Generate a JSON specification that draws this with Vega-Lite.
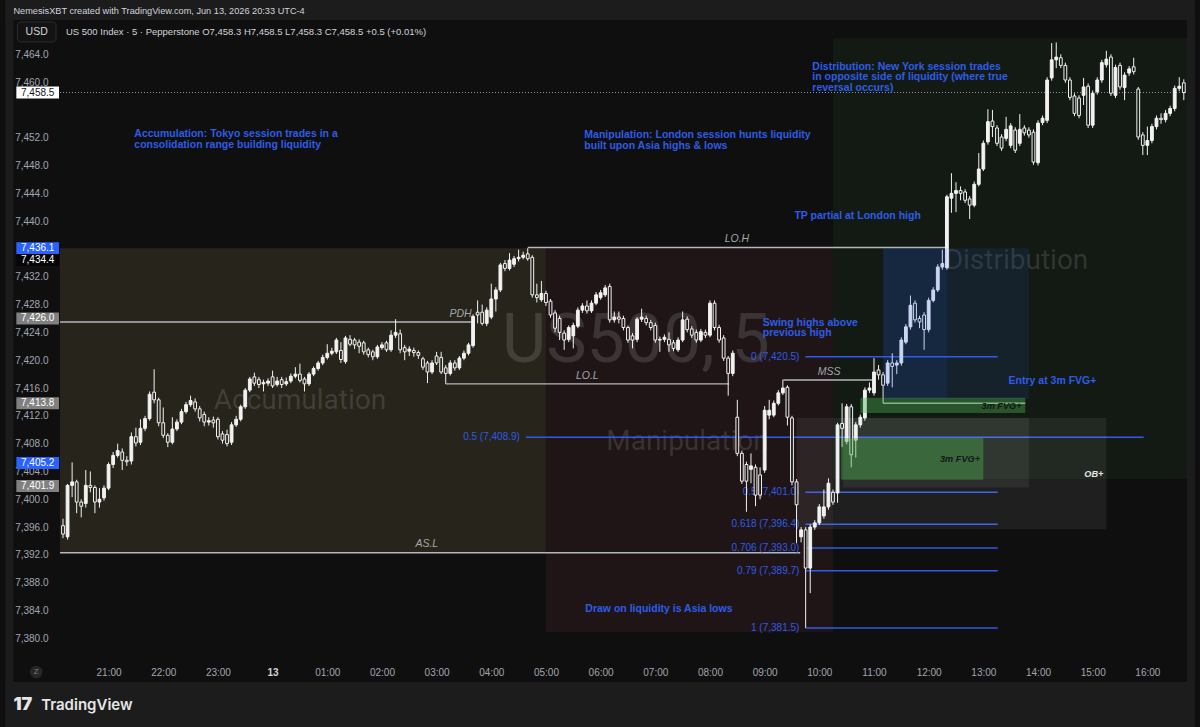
{
  "$schema": "https://vega.github.io/schema/vega-lite/v6.json",
  "width": 1137,
  "height": 640,
  "autosize": {"type": "none"},
  "padding": {"left": 55, "top": 20, "right": 8, "bottom": 67},
  "background": "#0f0f0f",
  "config": {
    "view": {"stroke": null},
    "font": "Liberation Sans",
    "axis": {
      "labelOverlap": false, "labelFlush": false, "ticks": false, "domain": false, "grid": false,
      "labelFont": "Liberation Sans", "labelFontSize": 10, "labelPadding": 7, "labelColor": "#a3a6af"
    }
  },
  "datasets": {
    "areas": [
      {"zone": "frame", "t0": -53.13, "t1": 1252.2, "p0": 7468.93, "p1": 7471.81},
      {"zone": "frame", "t0": -53.13, "t1": 1252.2, "p0": 7367.24, "p1": 7373.71},
      {"zone": "frame", "t0": -53.13, "t1": -44.43, "p0": 7367.24, "p1": 7471.81},
      {"zone": "frame", "t0": 1243.5, "t1": 1252.2, "p0": 7367.24, "p1": 7471.81},
      {"zone": "accumulation", "t0": 6.7, "t1": 540, "p0": 7392.3, "p1": 7436.1},
      {"zone": "manipulation", "t0": 540, "t1": 855, "p0": 7380.9, "p1": 7436.1},
      {"zone": "distribution", "t0": 855, "t1": 1243.5, "p0": 7402.9, "p1": 7466.3}
    ],
    "obBoxes": [
      {"name": "OB+", "t0": 815, "t1": 1155, "p0": 7395.7, "p1": 7411.7},
      {"name": "OB inner", "t0": 866, "t1": 1070, "p0": 7401.7, "p1": 7411.7}
    ],
    "blueBoxes": [
      {"name": "long", "t0": 910, "t1": 1070, "p0": 7414.4, "p1": 7436.1},
      {"name": "long inner", "t0": 910, "t1": 980, "p0": 7414.4, "p1": 7436.1}
    ],
    "fvgBoxes": [
      {"name": "3m FVG+ upper", "t0": 885, "t1": 1066, "p0": 7412.4, "p1": 7414.6},
      {"name": "3m FVG+ lower", "t0": 864, "t1": 1020, "p0": 7402.8, "p1": 7408.8}
    ],
    "levels": [
      {"name": "PDH", "t0": 6.7, "t1": 458, "p": 7425.5},
      {"name": "LO.H", "t0": 520, "t1": 978, "p": 7436.2},
      {"name": "LO.L", "t0": 430, "t1": 741, "p": 7416.6},
      {"name": "AS.L", "t0": 6.7, "t1": 819, "p": 7392.3},
      {"name": "MSS", "t0": 800.5, "t1": 900, "p": 7417.15},
      {"name": "entry", "t0": 910, "t1": 1066, "p": 7413.8}
    ],
    "fibs": [
      {"label": "0 (7,420.5)", "t0": 824.7, "t1": 1035.7, "p": 7420.5},
      {"label": "0.5 (7,401.0)", "t0": 824.7, "t1": 1035.7, "p": 7401.0},
      {"label": "0.618 (7,396.4)", "t0": 824.7, "t1": 1035.7, "p": 7396.4},
      {"label": "0.706 (7,393.0)", "t0": 824.7, "t1": 1035.7, "p": 7393.0},
      {"label": "0.79 (7,389.7)", "t0": 824.7, "t1": 1035.7, "p": 7389.7},
      {"label": "1 (7,381.5)", "t0": 824.7, "t1": 1035.7, "p": 7381.5},
      {"label": "0.5 (7,408.9)", "t0": 518, "t1": 1196, "p": 7408.9}
    ],
    "candles": [
      {"t":10,"o":7396.2,"h":7397.2,"l":7394.4,"c":7395.0},
      {"t":15,"o":7394.6,"h":7402.2,"l":7394.2,"c":7402.0},
      {"t":20,"o":7402.0,"h":7405.3,"l":7400.3,"c":7402.5},
      {"t":25,"o":7402.5,"h":7402.8,"l":7398.0,"c":7399.6},
      {"t":30,"o":7399.6,"h":7400.0,"l":7397.4,"c":7399.0},
      {"t":35,"o":7399.4,"h":7404.2,"l":7398.8,"c":7402.0},
      {"t":40,"o":7402.0,"h":7404.0,"l":7401.0,"c":7401.7},
      {"t":45,"o":7401.7,"h":7402.0,"l":7398.0,"c":7399.6},
      {"t":50,"o":7399.6,"h":7401.6,"l":7398.8,"c":7400.0},
      {"t":55,"o":7400.2,"h":7402.0,"l":7399.8,"c":7401.6},
      {"t":60,"o":7401.6,"h":7405.3,"l":7401.3,"c":7405.0},
      {"t":65,"o":7405.0,"h":7406.8,"l":7404.5,"c":7406.3},
      {"t":70,"o":7406.3,"h":7408.0,"l":7406.0,"c":7407.0},
      {"t":75,"o":7406.8,"h":7407.3,"l":7404.2,"c":7405.6},
      {"t":80,"o":7405.6,"h":7406.2,"l":7404.8,"c":7405.4},
      {"t":85,"o":7405.5,"h":7409.6,"l":7405.0,"c":7409.0},
      {"t":90,"o":7409.0,"h":7410.3,"l":7407.6,"c":7408.1},
      {"t":95,"o":7408.2,"h":7411.5,"l":7407.8,"c":7410.2},
      {"t":100,"o":7410.2,"h":7412.0,"l":7409.8,"c":7411.6},
      {"t":105,"o":7411.6,"h":7415.5,"l":7411.3,"c":7415.1},
      {"t":110,"o":7415.4,"h":7418.7,"l":7413.8,"c":7414.3},
      {"t":115,"o":7414.3,"h":7414.6,"l":7410.5,"c":7411.0},
      {"t":120,"o":7411.0,"h":7413.2,"l":7408.8,"c":7409.2},
      {"t":125,"o":7409.2,"h":7409.5,"l":7407.5,"c":7408.2},
      {"t":130,"o":7408.2,"h":7411.8,"l":7407.9,"c":7410.1},
      {"t":135,"o":7410.1,"h":7411.5,"l":7409.8,"c":7411.1},
      {"t":140,"o":7411.1,"h":7413.0,"l":7410.8,"c":7412.6},
      {"t":145,"o":7412.6,"h":7414.0,"l":7412.3,"c":7413.6},
      {"t":150,"o":7413.6,"h":7414.9,"l":7413.3,"c":7414.2},
      {"t":155,"o":7414.0,"h":7414.5,"l":7412.6,"c":7413.0},
      {"t":160,"o":7413.0,"h":7413.4,"l":7411.2,"c":7411.7},
      {"t":165,"o":7412.2,"h":7412.6,"l":7410.5,"c":7411.1},
      {"t":170,"o":7411.1,"h":7411.8,"l":7410.6,"c":7411.3},
      {"t":175,"o":7411.4,"h":7411.9,"l":7410.3,"c":7411.0},
      {"t":180,"o":7411.5,"h":7411.8,"l":7408.6,"c":7409.0},
      {"t":185,"o":7409.4,"h":7409.8,"l":7408.0,"c":7408.5},
      {"t":190,"o":7409.3,"h":7410.0,"l":7407.6,"c":7408.0},
      {"t":195,"o":7408.2,"h":7411.1,"l":7407.8,"c":7410.7},
      {"t":200,"o":7410.7,"h":7412.0,"l":7410.4,"c":7411.5},
      {"t":205,"o":7411.5,"h":7413.6,"l":7411.2,"c":7413.3},
      {"t":210,"o":7413.3,"h":7416.0,"l":7413.0,"c":7415.7},
      {"t":215,"o":7415.7,"h":7417.6,"l":7415.4,"c":7417.3},
      {"t":220,"o":7417.6,"h":7418.2,"l":7416.3,"c":7416.7},
      {"t":225,"o":7417.2,"h":7417.6,"l":7416.0,"c":7416.5},
      {"t":230,"o":7416.6,"h":7417.2,"l":7415.5,"c":7416.8},
      {"t":235,"o":7416.7,"h":7417.4,"l":7416.3,"c":7417.0},
      {"t":240,"o":7417.6,"h":7418.5,"l":7416.0,"c":7416.3},
      {"t":245,"o":7416.5,"h":7417.6,"l":7416.2,"c":7417.0},
      {"t":250,"o":7417.2,"h":7417.6,"l":7416.0,"c":7416.5},
      {"t":255,"o":7416.6,"h":7417.5,"l":7416.3,"c":7416.9},
      {"t":260,"o":7417.0,"h":7418.1,"l":7416.7,"c":7417.7},
      {"t":265,"o":7417.7,"h":7419.0,"l":7417.4,"c":7418.0},
      {"t":270,"o":7418.0,"h":7419.5,"l":7416.8,"c":7417.1},
      {"t":275,"o":7417.3,"h":7417.6,"l":7415.5,"c":7416.6},
      {"t":280,"o":7416.6,"h":7418.3,"l":7416.3,"c":7418.0},
      {"t":285,"o":7418.0,"h":7419.1,"l":7417.7,"c":7418.8},
      {"t":290,"o":7418.8,"h":7419.9,"l":7418.5,"c":7419.6},
      {"t":295,"o":7419.6,"h":7420.8,"l":7419.3,"c":7420.4},
      {"t":300,"o":7420.4,"h":7422.3,"l":7420.1,"c":7421.0},
      {"t":305,"o":7421.0,"h":7421.8,"l":7420.7,"c":7421.3},
      {"t":310,"o":7421.2,"h":7423.2,"l":7420.9,"c":7422.9},
      {"t":315,"o":7421.4,"h":7422.6,"l":7419.6,"c":7420.1},
      {"t":320,"o":7419.8,"h":7423.5,"l":7419.5,"c":7423.2},
      {"t":325,"o":7423.0,"h":7423.6,"l":7422.0,"c":7422.3},
      {"t":330,"o":7422.9,"h":7423.2,"l":7421.6,"c":7422.2},
      {"t":335,"o":7422.6,"h":7423.0,"l":7421.0,"c":7422.0},
      {"t":340,"o":7422.5,"h":7422.8,"l":7420.8,"c":7421.2},
      {"t":345,"o":7421.5,"h":7421.8,"l":7420.4,"c":7420.8},
      {"t":350,"o":7421.2,"h":7421.5,"l":7420.0,"c":7420.5},
      {"t":355,"o":7420.5,"h":7422.2,"l":7420.2,"c":7421.9},
      {"t":360,"o":7421.8,"h":7422.6,"l":7421.5,"c":7422.2},
      {"t":365,"o":7422.5,"h":7422.8,"l":7421.2,"c":7421.5},
      {"t":370,"o":7421.5,"h":7424.3,"l":7421.2,"c":7423.6},
      {"t":375,"o":7423.6,"h":7425.9,"l":7423.2,"c":7424.0},
      {"t":380,"o":7423.8,"h":7424.4,"l":7421.0,"c":7421.5},
      {"t":385,"o":7421.8,"h":7422.2,"l":7420.0,"c":7421.2},
      {"t":390,"o":7421.3,"h":7422.0,"l":7420.6,"c":7421.6},
      {"t":395,"o":7421.4,"h":7421.8,"l":7420.5,"c":7421.1},
      {"t":400,"o":7421.1,"h":7421.4,"l":7420.2,"c":7420.7},
      {"t":405,"o":7420.2,"h":7420.5,"l":7418.6,"c":7419.0},
      {"t":410,"o":7419.6,"h":7419.9,"l":7416.7,"c":7418.3},
      {"t":415,"o":7418.3,"h":7420.0,"l":7418.0,"c":7419.6},
      {"t":420,"o":7420.6,"h":7421.2,"l":7419.3,"c":7419.6},
      {"t":425,"o":7420.4,"h":7421.2,"l":7418.0,"c":7418.3},
      {"t":430,"o":7418.9,"h":7419.3,"l":7416.6,"c":7418.1},
      {"t":435,"o":7418.1,"h":7420.0,"l":7417.8,"c":7419.6},
      {"t":440,"o":7419.6,"h":7420.0,"l":7418.5,"c":7418.9},
      {"t":445,"o":7418.9,"h":7420.6,"l":7418.6,"c":7420.3},
      {"t":450,"o":7420.3,"h":7421.4,"l":7420.0,"c":7421.0},
      {"t":455,"o":7421.0,"h":7422.5,"l":7420.7,"c":7422.2},
      {"t":460,"o":7422.1,"h":7426.6,"l":7421.8,"c":7426.3},
      {"t":465,"o":7426.9,"h":7428.6,"l":7425.3,"c":7426.5},
      {"t":470,"o":7426.9,"h":7428.0,"l":7425.0,"c":7425.3},
      {"t":475,"o":7425.3,"h":7427.6,"l":7424.9,"c":7427.2},
      {"t":480,"o":7426.2,"h":7431.0,"l":7425.9,"c":7428.8},
      {"t":485,"o":7428.8,"h":7430.5,"l":7427.0,"c":7430.1},
      {"t":490,"o":7430.1,"h":7434.0,"l":7429.8,"c":7433.7},
      {"t":495,"o":7433.9,"h":7434.4,"l":7432.8,"c":7433.2},
      {"t":500,"o":7433.2,"h":7435.4,"l":7432.9,"c":7434.4},
      {"t":505,"o":7433.8,"h":7435.0,"l":7433.4,"c":7434.6},
      {"t":510,"o":7434.6,"h":7435.9,"l":7434.2,"c":7434.8},
      {"t":515,"o":7434.8,"h":7435.6,"l":7434.5,"c":7435.1},
      {"t":520,"o":7435.3,"h":7436.1,"l":7434.3,"c":7434.6},
      {"t":525,"o":7434.8,"h":7435.1,"l":7429.0,"c":7429.4},
      {"t":530,"o":7429.4,"h":7431.0,"l":7428.3,"c":7429.0},
      {"t":535,"o":7428.7,"h":7431.4,"l":7428.4,"c":7429.6},
      {"t":540,"o":7429.6,"h":7430.0,"l":7427.8,"c":7428.3},
      {"t":545,"o":7428.5,"h":7428.8,"l":7426.1,"c":7426.5},
      {"t":550,"o":7426.8,"h":7427.2,"l":7424.0,"c":7424.6},
      {"t":555,"o":7426.0,"h":7426.4,"l":7422.9,"c":7424.0},
      {"t":560,"o":7423.9,"h":7424.3,"l":7421.5,"c":7422.9},
      {"t":565,"o":7423.0,"h":7425.0,"l":7422.6,"c":7424.7},
      {"t":570,"o":7423.5,"h":7425.4,"l":7421.7,"c":7425.0},
      {"t":575,"o":7424.9,"h":7427.6,"l":7424.6,"c":7427.2},
      {"t":580,"o":7427.2,"h":7428.2,"l":7426.8,"c":7427.8},
      {"t":585,"o":7427.8,"h":7428.6,"l":7426.7,"c":7427.1},
      {"t":590,"o":7427.1,"h":7428.6,"l":7426.8,"c":7428.2},
      {"t":595,"o":7428.2,"h":7429.8,"l":7427.9,"c":7429.4},
      {"t":600,"o":7429.0,"h":7430.1,"l":7428.7,"c":7429.7},
      {"t":605,"o":7429.4,"h":7430.8,"l":7429.1,"c":7430.4},
      {"t":610,"o":7430.6,"h":7431.0,"l":7425.4,"c":7425.8},
      {"t":615,"o":7425.8,"h":7427.0,"l":7425.4,"c":7426.2},
      {"t":620,"o":7426.2,"h":7427.0,"l":7425.3,"c":7425.9},
      {"t":625,"o":7426.0,"h":7426.4,"l":7424.3,"c":7424.7},
      {"t":630,"o":7424.7,"h":7425.0,"l":7422.5,"c":7422.9},
      {"t":635,"o":7423.5,"h":7423.9,"l":7421.7,"c":7422.9},
      {"t":640,"o":7423.0,"h":7426.2,"l":7422.6,"c":7425.9},
      {"t":645,"o":7425.9,"h":7427.4,"l":7425.5,"c":7426.2},
      {"t":650,"o":7426.0,"h":7426.4,"l":7425.0,"c":7425.4},
      {"t":655,"o":7425.4,"h":7425.8,"l":7424.3,"c":7424.7},
      {"t":660,"o":7425.0,"h":7425.4,"l":7422.5,"c":7422.9},
      {"t":665,"o":7422.9,"h":7423.4,"l":7421.2,"c":7423.0},
      {"t":670,"o":7423.0,"h":7423.7,"l":7422.6,"c":7423.3},
      {"t":675,"o":7423.0,"h":7424.0,"l":7421.2,"c":7422.2},
      {"t":680,"o":7422.5,"h":7422.9,"l":7421.3,"c":7421.7},
      {"t":685,"o":7421.5,"h":7423.3,"l":7421.2,"c":7422.9},
      {"t":690,"o":7422.9,"h":7427.0,"l":7422.6,"c":7425.8},
      {"t":695,"o":7425.9,"h":7426.3,"l":7424.0,"c":7424.4},
      {"t":700,"o":7424.5,"h":7424.9,"l":7423.2,"c":7423.6},
      {"t":705,"o":7424.0,"h":7424.4,"l":7422.5,"c":7422.9},
      {"t":710,"o":7422.9,"h":7424.5,"l":7422.6,"c":7424.1},
      {"t":715,"o":7424.0,"h":7424.4,"l":7423.2,"c":7423.6},
      {"t":720,"o":7423.6,"h":7428.6,"l":7423.3,"c":7428.2},
      {"t":725,"o":7428.2,"h":7428.6,"l":7424.3,"c":7424.7},
      {"t":730,"o":7424.7,"h":7425.1,"l":7422.5,"c":7422.9},
      {"t":735,"o":7423.2,"h":7423.6,"l":7419.9,"c":7420.3},
      {"t":740,"o":7420.3,"h":7420.6,"l":7414.9,"c":7418.1},
      {"t":745,"o":7418.1,"h":7421.4,"l":7417.7,"c":7421.0},
      {"t":750,"o":7411.8,"h":7414.3,"l":7406.2,"c":7406.6},
      {"t":755,"o":7406.6,"h":7407.0,"l":7402.2,"c":7402.6},
      {"t":760,"o":7405.0,"h":7405.4,"l":7398.2,"c":7402.6},
      {"t":765,"o":7404.3,"h":7406.6,"l":7402.3,"c":7404.8},
      {"t":770,"o":7404.6,"h":7405.0,"l":7399.0,"c":7400.6},
      {"t":775,"o":7403.5,"h":7404.6,"l":7400.0,"c":7400.6},
      {"t":780,"o":7404.2,"h":7413.4,"l":7403.8,"c":7412.8},
      {"t":785,"o":7412.1,"h":7414.3,"l":7411.5,"c":7412.8},
      {"t":790,"o":7412.1,"h":7414.2,"l":7411.8,"c":7413.8},
      {"t":795,"o":7413.8,"h":7415.7,"l":7413.5,"c":7415.3},
      {"t":800,"o":7415.3,"h":7417.2,"l":7415.0,"c":7416.0},
      {"t":805,"o":7416.1,"h":7416.4,"l":7410.6,"c":7411.8},
      {"t":810,"o":7411.7,"h":7412.0,"l":7402.0,"c":7402.5},
      {"t":815,"o":7402.5,"h":7402.9,"l":7393.7,"c":7399.2},
      {"t":820,"o":7394.6,"h":7396.0,"l":7393.8,"c":7395.6},
      {"t":825,"o":7395.6,"h":7396.0,"l":7381.5,"c":7390.1},
      {"t":830,"o":7390.1,"h":7396.4,"l":7386.5,"c":7396.0},
      {"t":835,"o":7396.0,"h":7397.0,"l":7395.6,"c":7396.6},
      {"t":840,"o":7396.6,"h":7399.3,"l":7396.3,"c":7398.9},
      {"t":845,"o":7397.6,"h":7401.4,"l":7397.2,"c":7398.9},
      {"t":850,"o":7398.9,"h":7403.0,"l":7398.5,"c":7402.3},
      {"t":855,"o":7401.0,"h":7401.4,"l":7399.2,"c":7399.6},
      {"t":860,"o":7400.9,"h":7411.0,"l":7399.5,"c":7410.7},
      {"t":865,"o":7410.9,"h":7413.8,"l":7407.5,"c":7410.2},
      {"t":870,"o":7408.3,"h":7413.7,"l":7407.9,"c":7413.3},
      {"t":875,"o":7413.3,"h":7413.7,"l":7404.6,"c":7406.4},
      {"t":880,"o":7408.5,"h":7411.1,"l":7406.0,"c":7410.7},
      {"t":885,"o":7410.7,"h":7412.2,"l":7410.3,"c":7411.8},
      {"t":890,"o":7411.7,"h":7416.1,"l":7411.3,"c":7415.7},
      {"t":895,"o":7415.7,"h":7416.8,"l":7415.3,"c":7416.0},
      {"t":900,"o":7415.3,"h":7420.3,"l":7414.9,"c":7418.3},
      {"t":905,"o":7418.6,"h":7419.3,"l":7417.2,"c":7417.9},
      {"t":910,"o":7417.9,"h":7418.3,"l":7413.8,"c":7416.4},
      {"t":915,"o":7416.7,"h":7420.0,"l":7416.3,"c":7419.6},
      {"t":920,"o":7419.6,"h":7421.0,"l":7416.1,"c":7419.1},
      {"t":925,"o":7419.3,"h":7420.0,"l":7418.0,"c":7419.6},
      {"t":930,"o":7419.6,"h":7423.3,"l":7419.2,"c":7422.9},
      {"t":935,"o":7422.6,"h":7425.2,"l":7422.3,"c":7424.8},
      {"t":940,"o":7424.8,"h":7429.3,"l":7424.4,"c":7427.9},
      {"t":945,"o":7428.2,"h":7428.6,"l":7425.4,"c":7425.8},
      {"t":950,"o":7426.0,"h":7426.4,"l":7424.6,"c":7425.5},
      {"t":955,"o":7426.5,"h":7426.9,"l":7421.5,"c":7424.4},
      {"t":960,"o":7424.4,"h":7429.0,"l":7424.0,"c":7428.6},
      {"t":965,"o":7428.6,"h":7430.5,"l":7428.3,"c":7430.1},
      {"t":970,"o":7430.1,"h":7433.8,"l":7429.8,"c":7433.4},
      {"t":975,"o":7433.4,"h":7435.9,"l":7433.0,"c":7433.9},
      {"t":980,"o":7433.3,"h":7443.8,"l":7433.0,"c":7443.5},
      {"t":985,"o":7443.3,"h":7446.9,"l":7441.2,"c":7444.0},
      {"t":990,"o":7444.0,"h":7445.6,"l":7441.3,"c":7444.4},
      {"t":995,"o":7444.4,"h":7445.0,"l":7443.0,"c":7444.0},
      {"t":1000,"o":7444.2,"h":7444.6,"l":7442.6,"c":7443.0},
      {"t":1005,"o":7443.2,"h":7443.6,"l":7440.3,"c":7442.3},
      {"t":1010,"o":7442.3,"h":7445.7,"l":7442.0,"c":7445.3},
      {"t":1015,"o":7445.3,"h":7449.8,"l":7445.0,"c":7447.5},
      {"t":1020,"o":7447.5,"h":7451.6,"l":7447.2,"c":7451.2},
      {"t":1025,"o":7451.4,"h":7456.1,"l":7451.0,"c":7454.3},
      {"t":1030,"o":7454.4,"h":7456.0,"l":7452.1,"c":7453.6},
      {"t":1035,"o":7453.4,"h":7453.8,"l":7450.8,"c":7451.2},
      {"t":1040,"o":7452.1,"h":7452.5,"l":7450.1,"c":7450.5},
      {"t":1045,"o":7451.9,"h":7455.0,"l":7451.5,"c":7453.2},
      {"t":1050,"o":7450.9,"h":7454.1,"l":7450.5,"c":7453.7},
      {"t":1055,"o":7453.1,"h":7453.5,"l":7449.8,"c":7450.2},
      {"t":1060,"o":7451.2,"h":7455.4,"l":7450.8,"c":7453.2},
      {"t":1065,"o":7453.4,"h":7453.8,"l":7452.3,"c":7452.7},
      {"t":1070,"o":7453.1,"h":7453.5,"l":7452.0,"c":7452.4},
      {"t":1075,"o":7452.8,"h":7453.2,"l":7448.1,"c":7448.5},
      {"t":1080,"o":7448.4,"h":7454.5,"l":7448.0,"c":7454.1},
      {"t":1085,"o":7454.2,"h":7455.2,"l":7453.8,"c":7454.8},
      {"t":1090,"o":7454.5,"h":7460.7,"l":7454.1,"c":7460.3},
      {"t":1095,"o":7460.6,"h":7465.6,"l":7460.2,"c":7463.2},
      {"t":1100,"o":7463.2,"h":7465.7,"l":7462.0,"c":7463.6},
      {"t":1105,"o":7463.5,"h":7464.0,"l":7462.0,"c":7462.4},
      {"t":1110,"o":7462.4,"h":7462.8,"l":7459.9,"c":7460.3},
      {"t":1115,"o":7460.3,"h":7460.7,"l":7457.4,"c":7457.8},
      {"t":1120,"o":7458.0,"h":7458.4,"l":7455.1,"c":7455.5},
      {"t":1125,"o":7457.7,"h":7458.1,"l":7454.8,"c":7455.2},
      {"t":1130,"o":7458.1,"h":7460.6,"l":7456.7,"c":7459.3},
      {"t":1135,"o":7459.4,"h":7459.8,"l":7453.4,"c":7453.8},
      {"t":1140,"o":7453.8,"h":7458.8,"l":7453.4,"c":7458.4},
      {"t":1145,"o":7458.6,"h":7460.7,"l":7458.2,"c":7460.3},
      {"t":1150,"o":7460.3,"h":7463.2,"l":7459.9,"c":7462.8},
      {"t":1155,"o":7462.5,"h":7464.5,"l":7462.1,"c":7463.3},
      {"t":1160,"o":7463.6,"h":7464.0,"l":7458.0,"c":7458.4},
      {"t":1165,"o":7458.1,"h":7462.5,"l":7457.7,"c":7462.1},
      {"t":1170,"o":7462.4,"h":7462.8,"l":7458.9,"c":7459.3},
      {"t":1175,"o":7459.2,"h":7461.4,"l":7457.4,"c":7461.0},
      {"t":1180,"o":7461.3,"h":7462.3,"l":7460.9,"c":7461.9},
      {"t":1185,"o":7462.2,"h":7463.5,"l":7461.1,"c":7461.5},
      {"t":1190,"o":7459.0,"h":7459.3,"l":7451.7,"c":7452.1},
      {"t":1195,"o":7452.4,"h":7452.8,"l":7449.5,"c":7450.9},
      {"t":1200,"o":7450.9,"h":7453.6,"l":7449.5,"c":7451.6},
      {"t":1205,"o":7451.6,"h":7454.0,"l":7451.2,"c":7453.6},
      {"t":1210,"o":7453.6,"h":7455.2,"l":7453.2,"c":7454.8},
      {"t":1215,"o":7454.8,"h":7455.5,"l":7454.0,"c":7454.6},
      {"t":1220,"o":7454.6,"h":7456.0,"l":7454.2,"c":7455.5},
      {"t":1225,"o":7455.5,"h":7456.6,"l":7455.1,"c":7456.2},
      {"t":1230,"o":7456.2,"h":7459.5,"l":7455.8,"c":7459.1},
      {"t":1235,"o":7459.1,"h":7460.7,"l":7458.7,"c":7459.4},
      {"t":1240,"o":7459.9,"h":7460.4,"l":7457.4,"c":7458.5}
    ],
    "watermarks": [
      {"text": "US500, 5", "t": 638.7, "p": 7422.6, "size": "big"},
      {"text": "Accumulation", "t": 270, "p": 7414.1, "size": "small"},
      {"text": "Manipulation", "t": 695.3, "p": 7408.2, "size": "small"},
      {"text": "Distribution", "t": 1056.4, "p": 7434.3, "size": "small"}
    ],
    "levelLabels": [
      {"text": "PDH", "t": 446.2, "p": 7426.6},
      {"text": "LO.H", "t": 749.6, "p": 7437.4},
      {"text": "LO.L", "t": 585.4, "p": 7417.7},
      {"text": "AS.L", "t": 409.2, "p": 7393.6},
      {"text": "MSS", "t": 850.8, "p": 7418.3}
    ],
    "zoneLabels": [
      {"text": "3m FVG+", "t": 1040, "p": 7413.4, "kind": "fvg"},
      {"text": "3m FVG+", "t": 994.4, "p": 7405.8, "kind": "fvg"},
      {"text": "OB+", "t": 1141.3, "p": 7403.6, "kind": "ob"}
    ],
    "notes": [
      {"text": "Accumulation: Tokyo session trades in a\nconsolidation range building liquidity", "t": 88.3, "p": 7453.25},
      {"text": "Manipulation: London session hunts liquidity\nbuilt upon Asia highs & lows", "t": 582.1, "p": 7453.1},
      {"text": "Distribution: New York session trades\nin opposite  side of liquidity (where true\nreversal occurs)", "t": 832.3, "p": 7462.9},
      {"text": "TP partial at London high", "t": 812.7, "p": 7441.45},
      {"text": "Swing highs above\nprevious high", "t": 777.9, "p": 7426.1},
      {"text": "Entry at 3m FVG+", "t": 1047.7, "p": 7417.7},
      {"text": "Draw on liquidity is Asia lows", "t": 583.2, "p": 7384.9}
    ],
    "tags": [
      {"p": 7458.5, "label": "7,458.5", "style": "last"},
      {"p": 7436.1, "label": "7,436.1", "style": "blue"},
      {"p": 7434.4, "label": "7,434.4", "style": "black"},
      {"p": 7426.0, "label": "7,426.0", "style": "gray"},
      {"p": 7413.8, "label": "7,413.8", "style": "gray"},
      {"p": 7405.2, "label": "7,405.2", "style": "blue"},
      {"p": 7401.9, "label": "7,401.9", "style": "gray"}
    ],
    "chrome": [
      {"text": "NemesisXBT created with TradingView.com, Jun 13, 2026 20:33 UTC-4", "t": -44.4, "p": 7470.25}
    ],
    "legendLine": [
      {"text": "US 500 Index · 5 · Pepperstone   O7,458.3  H7,458.5  L7,458.3  C7,458.5  +0.5 (+0.01%)", "t": 13.2, "p": 7467.2}
    ],
    "currencyBox": [
      {"text": "USD", "t0": -40.1, "t1": 2.35, "p0": 7465.77, "p1": 7468.65, "t": -18.9, "p": 7467.2}
    ],
    "zoomButton": [
      {"text": "Z", "t": -19.4, "p": 7375.15}
    ],
    "brand": [
      {"logo": "17", "text": "TradingView", "tl": -44.4, "t": -14, "p": 7370.4}
    ]
  },
  "resolve": {"scale": {"fill": "independent"}},
  "layer": [
    {
      "data": {"name": "areas"},
      "mark": {"type": "rect"},
      "encoding": {
        "x": {
          "field": "t0", "type": "quantitative", "title": null,
          "scale": {"domain": [6.7, 1243.5], "nice": false, "zero": false},
          "axis": {
            "values": [60, 120, 180, 240, 300, 360, 420, 480, 540, 600, 660, 720, 780, 840, 900, 960, 1020, 1080, 1140, 1200],
            "tickCount": 60,
            "labelExpr": "datum.value == 240 ? '13' : ((floor(datum.value / 60) + 20) % 24 < 10 ? '0' : '') + ((floor(datum.value / 60) + 20) % 24) + ':00'",
            "labelColor": {"condition": {"test": "datum.value == 240", "value": "#d1d4dc"}, "value": "#a3a6af"},
            "labelFontWeight": {"condition": {"test": "datum.value == 240", "value": "bold"}, "value": "normal"},
            "labelOverlap": false, "title": null
          }
        },
        "x2": {"field": "t1"},
        "y": {
          "field": "p0", "type": "quantitative", "title": null,
          "scale": {"domain": [7376.88, 7468.93], "nice": false, "zero": false},
          "axis": {
            "values": [7380, 7384, 7388, 7392, 7396, 7400, 7404, 7408, 7412, 7416, 7420, 7424, 7428, 7432, 7440, 7444, 7448, 7452, 7460, 7464],
            "tickCount": 60,
            "format": ",.1f", "labelOverlap": false, "title": null
          }
        },
        "y2": {"field": "p1"},
        "fill": {
          "field": "zone", "type": "nominal", "legend": null,
          "scale": {"domain": ["frame", "accumulation", "manipulation", "distribution"], "range": ["#1c1c1c", "#26241b", "#1f1516", "#131a13"]}
        }
      }
    },
    {
      "data": {"name": "watermarks"},
      "mark": {"type": "text", "font": "Roboto", "align": "center", "baseline": "middle", "fill": "#ffffff", "fillOpacity": 0.13},
      "encoding": {
        "x": {"field": "t", "type": "quantitative", "title": null},
        "y": {"field": "p", "type": "quantitative", "title": null},
        "text": {"field": "text"},
        "size": {"field": "size", "type": "nominal", "legend": null, "scale": {"domain": ["big", "small"], "range": [68, 28]}}
      }
    },
    {
      "data": {"name": "levels"},
      "mark": {"type": "rule", "color": "#b4b6bc", "strokeWidth": 1.4},
      "encoding": {
        "x": {"field": "t0", "type": "quantitative", "title": null},
        "x2": {"field": "t1"},
        "y": {"field": "p", "type": "quantitative", "title": null}
      }
    },
    {
      "data": {"name": "fibs"},
      "mark": {"type": "rule", "color": "#2f5be8", "strokeWidth": 1.5},
      "encoding": {
        "x": {"field": "t0", "type": "quantitative", "title": null},
        "x2": {"field": "t1"},
        "y": {"field": "p", "type": "quantitative", "title": null}
      }
    },
    {
      "data": {"name": "fibs"},
      "mark": {"type": "text", "align": "right", "baseline": "middle", "dx": -6, "fontSize": 10, "color": "#2f5be8"},
      "encoding": {
        "x": {"field": "t0", "type": "quantitative", "title": null},
        "y": {"field": "p", "type": "quantitative", "title": null},
        "text": {"field": "label"}
      }
    },
    {
      "data": {"values": [{"t0": 6.7, "t1": 1243.5, "p": 7458.5}]},
      "mark": {"type": "rule", "color": "#9598a1", "strokeWidth": 1, "strokeDash": [1, 2]},
      "encoding": {
        "x": {"field": "t0", "type": "quantitative", "title": null},
        "x2": {"field": "t1"},
        "y": {"field": "p", "type": "quantitative", "title": null}
      }
    },
    {
      "data": {"name": "candles"},
      "mark": {"type": "rule", "color": "#f2f2f2", "strokeWidth": 1},
      "encoding": {
        "x": {"field": "t", "type": "quantitative", "title": null},
        "y": {"field": "l", "type": "quantitative", "title": null},
        "y2": {"field": "h"}
      }
    },
    {
      "data": {"name": "candles"},
      "mark": {"type": "bar", "width": 2.8, "stroke": "#f2f2f2", "strokeWidth": 1},
      "encoding": {
        "x": {"field": "t", "type": "quantitative", "title": null},
        "y": {"field": "o", "type": "quantitative", "title": null},
        "y2": {"field": "c"},
        "fill": {
          "condition": [
            {"test": "datum.c >= datum.o", "value": "#f2f2f2"},
            {"test": "datum.t < 540", "value": "#26241b"},
            {"test": "datum.t < 855", "value": "#1f1516"}
          ],
          "value": "#131a13"
        }
      }
    },
    {
      "data": {"name": "obBoxes"},
      "mark": {"type": "rect", "fill": "#ffffff", "fillOpacity": 0.065},
      "encoding": {
        "x": {"field": "t0", "type": "quantitative", "title": null},
        "x2": {"field": "t1"},
        "y": {"field": "p0", "type": "quantitative", "title": null},
        "y2": {"field": "p1"}
      }
    },
    {
      "data": {"name": "blueBoxes"},
      "mark": {"type": "rect", "fill": "#2962ff", "fillOpacity": 0.1},
      "encoding": {
        "x": {"field": "t0", "type": "quantitative", "title": null},
        "x2": {"field": "t1"},
        "y": {"field": "p0", "type": "quantitative", "title": null},
        "y2": {"field": "p1"}
      }
    },
    {
      "data": {"name": "fvgBoxes"},
      "mark": {"type": "rect", "fill": "#4caf50", "fillOpacity": 0.4},
      "encoding": {
        "x": {"field": "t0", "type": "quantitative", "title": null},
        "x2": {"field": "t1"},
        "y": {"field": "p0", "type": "quantitative", "title": null},
        "y2": {"field": "p1"}
      }
    },
    {
      "data": {"name": "levelLabels"},
      "mark": {"type": "text", "align": "center", "baseline": "middle", "fontSize": 10.5, "fontStyle": "italic", "color": "#a3a6af"},
      "encoding": {
        "x": {"field": "t", "type": "quantitative", "title": null},
        "y": {"field": "p", "type": "quantitative", "title": null},
        "text": {"field": "text"}
      }
    },
    {
      "data": {"name": "zoneLabels"},
      "mark": {"type": "text", "align": "center", "baseline": "middle", "fontSize": 9.2, "fontStyle": "italic", "fontWeight": "bold"},
      "encoding": {
        "x": {"field": "t", "type": "quantitative", "title": null},
        "y": {"field": "p", "type": "quantitative", "title": null},
        "text": {"field": "text"},
        "color": {"condition": {"test": "datum.kind == 'ob'", "value": "#e6e6e6"}, "value": "#161616"}
      }
    },
    {
      "data": {"name": "notes"},
      "mark": {"type": "text", "align": "left", "baseline": "top", "lineBreak": "\n", "lineHeight": 10.5, "fontSize": 10.5, "fontWeight": "bold", "color": "#2e5ce6"},
      "encoding": {
        "x": {"field": "t", "type": "quantitative", "title": null},
        "y": {"field": "p", "type": "quantitative", "title": null},
        "text": {"field": "text"}
      }
    },
    {
      "data": {"name": "tags"},
      "mark": {"type": "rect", "height": 12},
      "encoding": {
        "x": {"datum": -41.2, "type": "quantitative", "title": null},
        "x2": {"datum": 5.6},
        "y": {"field": "p", "type": "quantitative", "title": null},
        "fill": {
          "field": "style", "type": "nominal", "legend": null,
          "scale": {"domain": ["last", "blue", "black", "gray"], "range": ["#ffffff", "#2962ff", "#050505", "#808080"]}
        }
      }
    },
    {
      "data": {"name": "tags"},
      "mark": {"type": "text", "align": "center", "baseline": "middle", "fontSize": 10},
      "encoding": {
        "x": {"datum": -17.8, "type": "quantitative", "title": null},
        "y": {"field": "p", "type": "quantitative", "title": null},
        "text": {"field": "label"},
        "color": {"condition": {"test": "datum.style == 'last'", "value": "#131722"}, "value": "#ffffff"}
      }
    },
    {
      "data": {"name": "chrome"},
      "mark": {"type": "text", "align": "left", "baseline": "middle", "fontSize": 9.2, "color": "#d1d4dc"},
      "encoding": {
        "x": {"field": "t", "type": "quantitative", "title": null},
        "y": {"field": "p", "type": "quantitative", "title": null},
        "text": {"field": "text"}
      }
    },
    {
      "data": {"name": "currencyBox"},
      "mark": {"type": "rect", "fill": "#131313", "stroke": "#2e2e2e", "strokeWidth": 1, "cornerRadius": 4},
      "encoding": {
        "x": {"field": "t0", "type": "quantitative", "title": null},
        "x2": {"field": "t1"},
        "y": {"field": "p0", "type": "quantitative", "title": null},
        "y2": {"field": "p1"}
      }
    },
    {
      "data": {"name": "currencyBox"},
      "mark": {"type": "text", "align": "center", "baseline": "middle", "fontSize": 10.5, "color": "#d1d4dc"},
      "encoding": {
        "x": {"field": "t", "type": "quantitative", "title": null},
        "y": {"field": "p", "type": "quantitative", "title": null},
        "text": {"field": "text"}
      }
    },
    {
      "data": {"name": "legendLine"},
      "mark": {"type": "text", "align": "left", "baseline": "middle", "fontSize": 9.5, "color": "#d1d4dc"},
      "encoding": {
        "x": {"field": "t", "type": "quantitative", "title": null},
        "y": {"field": "p", "type": "quantitative", "title": null},
        "text": {"field": "text"}
      }
    },
    {
      "data": {"name": "zoomButton"},
      "mark": {"type": "point", "shape": "circle", "filled": true, "size": 160, "color": "#262626", "opacity": 1},
      "encoding": {
        "x": {"field": "t", "type": "quantitative", "title": null},
        "y": {"field": "p", "type": "quantitative", "title": null}
      }
    },
    {
      "data": {"name": "zoomButton"},
      "mark": {"type": "text", "align": "center", "baseline": "middle", "fontSize": 8, "color": "#7d7f87"},
      "encoding": {
        "x": {"field": "t", "type": "quantitative", "title": null},
        "y": {"field": "p", "type": "quantitative", "title": null},
        "text": {"field": "text"}
      }
    },
    {
      "data": {"name": "brand"},
      "mark": {"type": "text", "align": "left", "baseline": "middle", "font": "Inter", "fontSize": 18, "fontWeight": 900, "color": "#e6e6e6"},
      "encoding": {
        "x": {"field": "tl", "type": "quantitative", "title": null},
        "y": {"field": "p", "type": "quantitative", "title": null},
        "text": {"field": "logo"}
      }
    },
    {
      "data": {"name": "brand"},
      "mark": {"type": "text", "align": "left", "baseline": "middle", "font": "Inter", "fontSize": 15, "fontWeight": 600, "color": "#e6e6e6"},
      "encoding": {
        "x": {"field": "t", "type": "quantitative", "title": null},
        "y": {"field": "p", "type": "quantitative", "title": null},
        "text": {"field": "text"}
      }
    }
  ]
}
